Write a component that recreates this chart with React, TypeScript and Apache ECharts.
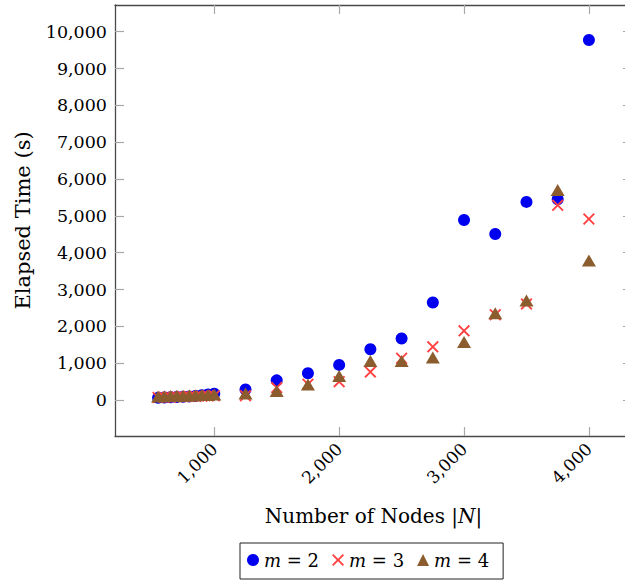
import React, { useEffect, useRef } from 'react';
import * as echarts from 'echarts';

const nodes = [550, 600, 650, 700, 750, 800, 850, 900, 950, 1000, 1250, 1500, 1750, 2000, 2250, 2500, 2750, 3000, 3250, 3500, 3750, 4000];
const timeM2 = [60, 70, 75, 85, 90, 100, 110, 130, 150, 170, 290, 535, 730, 955, 1380, 1670, 2650, 4890, 4510, 5380, 5450, 9775];
const timeM3 = [70, 75, 80, 85, 90, 95, 100, 105, 110, 120, 120, 340, 430, 500, 765, 1135, 1445, 1880, 2315, 2610, 5290, 4915];
const timeM4 = [100, 105, 110, 115, 120, 125, 130, 135, 140, 150, 180, 245, 420, 655, 1060, 1060, 1155, 1580, 2355, 2700, 5700, 3790];
const seriesNames = ['m=2', 'm=3', 'm=4'];
const xTicks = [1000, 2000, 3000, 4000];
const yTicks = [0, 1000, 2000, 3000, 4000, 5000, 6000, 7000, 8000, 9000, 10000];

const FONT = "'DejaVu Serif', 'Liberation Serif', serif";
const crossPath = 'path://M0,1.1L1.1,0L5,3.9L8.9,0L10,1.1L6.1,5L10,8.9L8.9,10L5,6.1L1.1,10L0,8.9L3.9,5Z';

const fmt = (v: number) => v.toLocaleString('en-US');

export default function App() {
  const ref = useRef<HTMLDivElement>(null);
  useEffect(() => {
    document.body.style.margin = '0';
    if (!ref.current) return;
    const chart = echarts.init(ref.current, null, { renderer: 'svg' });
    const pair = (ys: number[]) => nodes.map((x, i) => [x, ys[i]]);
    const axisLine = { show: true, onZero: false, lineStyle: { color: '#4a4a4a', width: 1.3 } };
    const tickStyle = { color: '#a8a8a8', width: 1.2 };
    chart.setOption({
      animation: false,
      grid: { left: 115, top: 5, width: 517, height: 431, outerBoundsMode: 'none', containLabel: false },
      legend: {
        data: seriesNames,
        left: 240,
        top: 543,
        orient: 'horizontal',
        borderColor: '#222',
        borderWidth: 1,
        padding: [8, 14, 10, 7],
        itemGap: 13,
        itemWidth: 12,
        itemHeight: 12,
        formatter: (name: string) => `{i|m} = ${name.split('=')[1]}`,
        textStyle: {
          fontFamily: FONT,
          fontSize: 18,
          color: '#000',
          rich: { i: { fontStyle: 'italic', fontFamily: FONT, fontSize: 18, color: '#000' } },
        },
      },
      xAxis: [
        {
          type: 'value',
          position: 'bottom',
          min: 205,
          max: 4345,
          axisLine,
          axisTick: { show: true, inside: true, length: 9, lineStyle: tickStyle, customValues: xTicks },
          axisLabel: {
            customValues: xTicks,
            rotate: 45,
            margin: 10,
            formatter: fmt,
            fontFamily: FONT,
            fontSize: 17,
            color: '#000',
          },
          splitLine: { show: false },
          name: '{a|Number of Nodes |}{b|N}{a||}',
          nameLocation: 'middle',
          nameGap: 70,
          nameTextStyle: {
            rich: {
              a: { fontFamily: FONT, fontSize: 20, color: '#000' },
              b: { fontFamily: FONT, fontSize: 20, color: '#000', fontStyle: 'italic' },
            },
          },
        },
        {
          type: 'value',
          position: 'top',
          min: 205,
          max: 4345,
          axisLine,
          axisTick: { show: true, inside: true, length: 9, lineStyle: tickStyle, customValues: xTicks },
          axisLabel: { show: false },
          splitLine: { show: false },
        },
      ],
      yAxis: [
        {
          type: 'value',
          position: 'left',
          min: -975,
          max: 10725,
          axisLine,
          axisTick: { show: true, inside: true, length: 9, lineStyle: tickStyle, customValues: yTicks },
          axisLabel: {
            customValues: yTicks,
            margin: 8,
            formatter: fmt,
            fontFamily: FONT,
            fontSize: 17.5,
            color: '#000',
          },
          splitLine: { show: false },
          name: 'Elapsed Time (s)',
          nameLocation: 'middle',
          nameGap: 82,
          nameTextStyle: { fontFamily: FONT, fontSize: 21, color: '#000' },
        },
        {
          type: 'value',
          position: 'right',
          min: -975,
          max: 10725,
          axisLine,
          axisTick: { show: true, inside: true, length: 9, lineStyle: tickStyle, customValues: yTicks },
          axisLabel: { show: false },
          splitLine: { show: false },
        },
      ],
      series: [
        {
          name: seriesNames[0],
          type: 'scatter',
          data: pair(timeM2),
          symbol: 'circle',
          symbolSize: 12,
          itemStyle: { color: '#0000f0', opacity: 1 },
        },
        {
          name: seriesNames[1],
          type: 'scatter',
          data: pair(timeM3),
          symbol: crossPath,
          symbolSize: 12,
          itemStyle: { color: '#ff4040', opacity: 1 },
        },
        {
          name: seriesNames[2],
          type: 'scatter',
          data: pair(timeM4),
          symbol: 'triangle',
          symbolSize: [14, 12],
          itemStyle: { color: '#8a5c2e', opacity: 1 },
        },
      ],
    });
    return () => chart.dispose();
  }, []);
  return <div ref={ref} style={{ width: 625, height: 581 }} />;
}
